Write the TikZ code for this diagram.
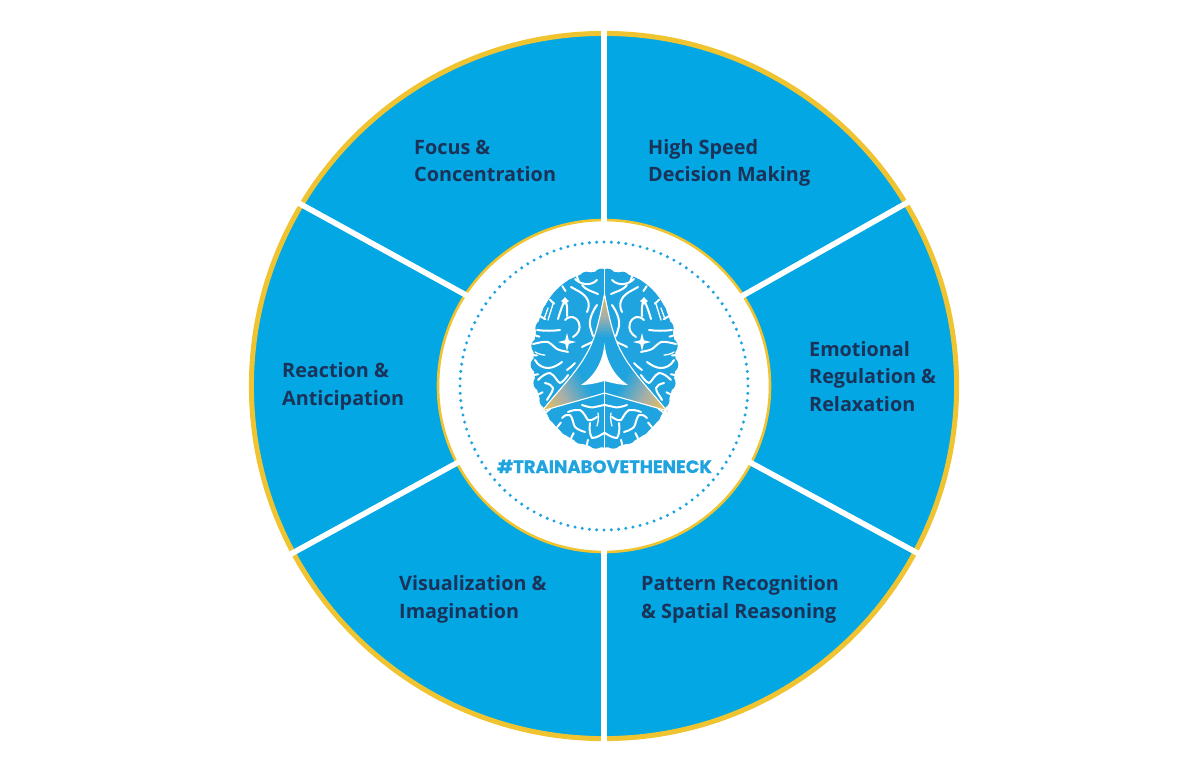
\documentclass[tikz,border=0pt]{standalone}
\usepackage{fontspec}
\usetikzlibrary{calc}
\newfontfamily\labfont{Open Sans}
\newfontfamily\tagfont{Poppins}[BoldFont=* Bold,BoldFeatures={FakeBold=0.8}]
\definecolor{wheelblue}{HTML}{02A7E4}
\definecolor{ringgold}{HTML}{F0C330}
\definecolor{navy}{HTML}{1C3359}
\definecolor{brainblue}{HTML}{1FA4DF}
\definecolor{tipgold}{HTML}{EBC448}
\definecolor{midgray}{HTML}{A9AFA8}
\tikzset{
  divider/.style={draw=white,line width=5.6pt},
  seglabel/.style={anchor=west,align=left,inner sep=0pt,text=navy,
    font=\labfont\bfseries\fontsize{19.8}{27.7}\selectfont},
  sulcus/.style={draw=white,line width=2pt,line cap=round,line join=round},
  sulcusthin/.style={draw=white,line width=1.3pt,line cap=round,line join=round},
}
\newcommand{\sparkle}[3]{\fill[white] (#1,#2-#3) -- (#1+1.8,#2-1.8) -- (#1+#3,#2) -- (#1+1.8,#2+1.8) -- (#1,#2+#3) -- (#1-1.8,#2+1.8) -- (#1-#3,#2) -- (#1-1.8,#2-1.8) -- cycle;}
% one arm of the tri-star: bands from the blue end up to the tip
\newcommand{\armgrad}[3]{% tip colour, tip y, blue-end y
  \foreach \t in {0,...,30}{%
    \pgfmathsetmacro{\yy}{#3+(#2-#3)*\t/30}%
    \pgfmathtruncatemacro{\pa}{\t<=15 ? 100-\t*100/15 : 0}%
    \pgfmathtruncatemacro{\pb}{\t>15 ? (\t-15)*100/15 : 0}%
    \ifnum\t>15\relax
      \fill[#1!\pb!midgray] (560,#2-4) rectangle (650,\yy);
    \else
      \fill[brainblue!\pa!midgray] (560,#2-4) rectangle (650,\yy);
    \fi}%
}
\newcommand{\brainhalf}{%
  \fill[brainblue] (604,271.5) .. controls (580,271) and (561,281) .. (549,299)
    .. controls (538,316) and (533.5,338) .. (533.5,358)
    .. controls (533.5,382) and (539,405) .. (553,423)
    .. controls (566,439) and (585,447.5) .. (604,447.5) -- cycle;
  % scalloped rim
  \foreach \t in {98,111,...,267}{\fill[brainblue] ($(605,359)+(\t:66.5 and 82.5)$) circle (8);}
  % edge notches between the scallops
  \foreach \t in {104.5,117.5,...,260}{\draw[sulcus] ($(605,359)+(\t:73.5 and 89.5)$) -- ($(605,359)+(\t:68 and 83.5)$);}
  % sulci, upper lobes
  \draw[sulcus] (575,279) .. controls (580,284) and (590,287) .. (597,280);
  \draw[sulcus] (582,285) .. controls (587,291) and (592,291) .. (598,294);
  \draw[sulcus] (587,312) .. controls (591,304) and (588,297) .. (580,292) .. controls (577,290) and (574,289) .. (571,287);
  \draw[sulcus] (565,300) .. controls (568,306) and (567,310) .. (567,316);
  \draw[sulcus] (565,300) .. controls (562,306) and (560,312) .. (558,319);
  \draw[sulcusthin] (553,304) -- (548,320);
  \draw[sulcusthin] (548,308) -- (544,319);
  \draw[sulcus] (537,330) .. controls (545,331) and (553,331) .. (560,330);
  \draw[sulcus] (565,320) .. controls (570,315) and (576,316) .. (579,323) .. controls (581,329) and (578,334) .. (573,337);
  \draw[sulcus] (597,305) .. controls (592,312) and (589,320) .. (590,326) .. controls (591,330) and (592,333) .. (593,336);
  \draw[sulcus] (582,347) .. controls (585,345) and (589,344) .. (592,342);
  \draw[sulcus] (533,344) .. controls (538,343) and (544,341) .. (548,342) .. controls (552,344) and (555,348) .. (557,349) .. controls (561,351) and (565,351) .. (568,352);
  \draw[sulcusthin] (535,352) .. controls (538,354) and (542,355) .. (545,355);
  % sulci, middle lobes
  \draw[sulcus] (535,360) .. controls (538,366) and (544,368) .. (548,368) .. controls (553,368) and (558,365) .. (562,362);
  \draw[sulcus] (538,380) .. controls (542,376) and (546,373) .. (550,373) .. controls (555,375) and (557,382) .. (560,383) .. controls (563,382) and (566,378) .. (568,375);
  \draw[sulcus] (545,383) .. controls (549,384) and (552,385) .. (553,388) .. controls (553,392) and (549,396) .. (547,400);
  \draw[sulcus] (575,363) .. controls (572,366) and (570,368) .. (567,370);
  \draw[sulcusthin] (563,392) .. controls (565,388) and (568,385) .. (570,384);
  % sulci, lower lobes
  \draw[sulcus] (582,405) .. controls (588,407) and (592,408) .. (595,407) .. controls (598,406) and (601,406) .. (604,405);
  \draw[sulcus] (568,412) .. controls (572,410) and (576,410) .. (580,410) .. controls (584,412) and (586,418) .. (588,420) .. controls (591,421) and (594,419) .. (597,417);
  \draw[sulcus] (562,418) .. controls (565,415) and (568,414) .. (570,415) .. controls (573,418) and (573,424) .. (575,427) .. controls (578,430) and (582,431) .. (585,432);
  \draw[sulcus] (590,423) .. controls (589,430) and (590,435) .. (592,438) .. controls (596,438) and (601,435) .. (604,433);
  \draw[sulcusthin] (598,413) .. controls (599,418) and (598,422) .. (597,426);
  \sparkle{567}{342}{9}
  \sparkle{565}{301}{4}
}
\begin{document}
\begin{tikzpicture}[x=1pt,y=-1pt]
\useasboundingbox (0,0) rectangle (1200,777);
\fill[white] (0,0) rectangle (1200,777);
% wheel
\coordinate (c) at (604,386);
\fill[wheelblue] (c) circle (353);
\draw[ringgold,line width=5pt] (c) circle (352.6);
% dividers
\coordinate (ta) at (604,24); \coordinate (tb) at (604,230);
\coordinate (ba) at (604,748); \coordinate (bb) at (604,540);
\coordinate (la) at (294,200.5); \coordinate (lb) at (475,300);
\coordinate (ra) at (911,200.5); \coordinate (rb) at (735,300);
\coordinate (lla) at (289,555); \coordinate (llb) at (466,458);
\coordinate (rra) at (921,555); \coordinate (rrb) at (742,458);
% hub
\node[circle,draw=ringgold,fill=white,line width=2.6pt,minimum size=332pt,inner sep=0pt] (hub) at (604,386) {};
\foreach \p/\q in {ta/tb,ba/bb,la/lb,ra/rb,lla/llb,rra/rrb}{\draw[divider] (\p) -- (\q);}
\fill[white] (c) circle (160);
% dotted ring
\foreach \i in {0,...,123}{\fill[brainblue] ($(604,386)+(\i*2.90323:144)$) circle (1.7);}
% brain
\begin{scope}\brainhalf\end{scope}
\begin{scope}[xscale=-1,xshift=-1209pt]\brainhalf\end{scope}
\draw[white,line width=1.1pt] (604.5,268) -- (604.5,450);
% tri-star
\def\starpath{(604.5,294) .. controls (608,312) and (613,338) .. (622,353)
  .. controls (632,372) and (652,392) .. (667,411)
  .. controls (648,405) and (625,399) .. (604.5,393)
  .. controls (585,399) and (562,405) .. (542,411)
  .. controls (557,392) and (577,372) .. (587,353)
  .. controls (596,338) and (601,312) .. (604.5,294) -- cycle}
\fill[brainblue] \starpath;
\begin{scope}
  \clip \starpath;
  \armgrad{tipgold!70!midgray}{296}{338}
  \begin{scope}[rotate around={120:(604.5,372)}]
    \armgrad{tipgold}{298}{352}
  \end{scope}
  \begin{scope}[rotate around={-120:(604.5,372)}]
    \armgrad{tipgold}{298}{352}
  \end{scope}
\end{scope}
\draw[white,line width=1.1pt,line join=round] \starpath;
\fill[white] (604.5,343) .. controls (606,360) and (613,375) .. (628,385)
  .. controls (620,385) and (612,383) .. (604.5,381)
  .. controls (597,383) and (589,385) .. (581,385)
  .. controls (596,375) and (603,360) .. (604.5,343) -- cycle;
\draw[white,line width=1.1pt] (604.5,381) -- (604.5,393);
% hashtag
\node[inner sep=0pt,anchor=base,text=brainblue,font=\tagfont\bfseries\fontsize{17.9}{20}\selectfont] (tag) at (604.5,473) {\#TRAINABOVETHENECK};
% labels
\node[seglabel] (focus) at (414,161) {Focus \&\\Concentration};
\node[seglabel] (speed) at (648,163) {High Speed\\Decision Making};
\node[seglabel] (react) at (282,386) {Reaction \&\\Anticipation};
\node[seglabel] (emot) at (809,376.5) {Emotional\\Regulation \&\\Relaxation};
\node[seglabel] (visual) at (399,599) {Visualization \&\\Imagination};
\node[seglabel] (pattern) at (641,599) {Pattern Recognition\\\& Spatial Reasoning};
\end{tikzpicture}
\end{document}
